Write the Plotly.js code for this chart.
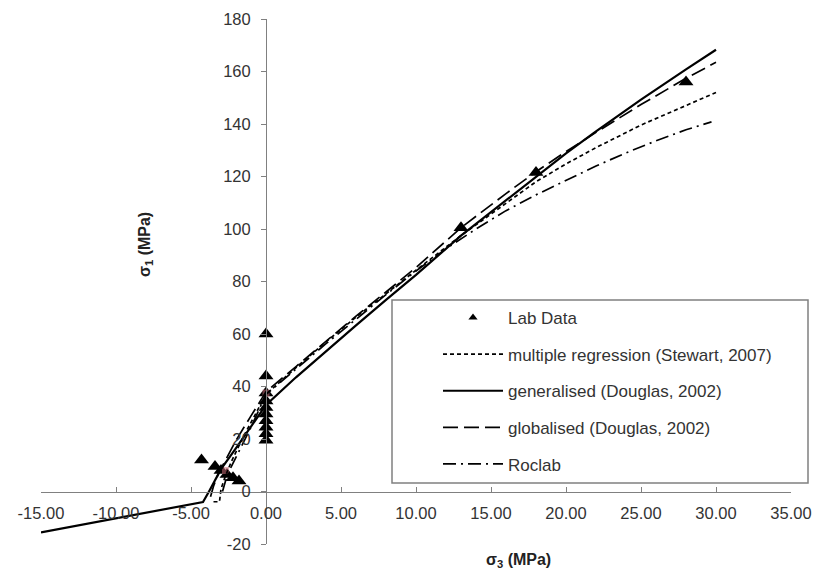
<!DOCTYPE html>
<html>
<head>
<meta charset="utf-8">
<script src="https://cdn.plot.ly/plotly-3.0.1.min.js"></script>
<style>html,body{margin:0;padding:0;background:#fff;}#chart{width:818px;height:576px;}</style>
</head>
<body>
<div id="chart"></div>
<script>
// Lab data (sigma3, sigma1) in MPa
const labX = [28, 18, 13, 0, 0, 0, 0, 0, 0, 0, 0, 0, 0, -4.3, -3.4, -3.0, -2.6, -2.2, -1.8];
const labY = [156, 121.5, 100.5, 60, 44, 37.5, 34.5, 32, 29.5, 27, 24.5, 22, 19.5, 12, 9.5, 8, 6.5, 5.2, 4];

// highlighted points (pinkish)
const hiX = [0, -2.7];
const hiY = [37.5, 8];

// multiple regression (Stewart, 2007)
const mrX = [-3.5, -3.1, -3.0, -2.7, -2.3, -1.5, -0.7, 0, 2, 4, 6, 8, 10, 13, 16, 18, 20, 22, 25, 28, 30];
const mrY = [-3.9, -3.9, 1, 6, 11.5, 21, 29.5, 37, 47.2, 57, 66.4, 75.5, 84.3, 97.5, 110, 118, 124.8, 131, 139.6, 147.2, 152];

// generalised (Douglas, 2002)
const genX = [-15, -10, -6, -4.2, -3.8, -3.4, -3, -2, -1, 0, 2, 4, 6, 8, 10, 13, 16, 18, 20, 22, 25, 28, 30];
const genY = [-15.6, -10.3, -5.9, -4.0, 0, 4.5, 8.5, 16.5, 24.8, 33, 43.5, 53.5, 63.3, 73, 82.5, 97.5, 111, 120, 128.8, 137.2, 149.3, 160.8, 168.3];

// globalised (Douglas, 2002)
const globX = [-3.7, -3.5, -3.2, -2.8, -2, -1, 0, 2, 4, 6, 8, 10, 13, 16, 18, 20, 22, 25, 28, 30];
const globY = [-2, 2, 6.5, 11, 19.5, 28.8, 38, 47.6, 57.3, 66.8, 76, 85.3, 100.5, 113.5, 121.8, 129.5, 136.8, 147.4, 157.4, 163.5];

// Roclab
const rocX = [-2.9, -2.7, -2.4, -1.8, -1, 0, 2, 4, 6, 8, 10, 12, 14, 16, 18, 20, 22, 24, 26, 28, 29.7];
const rocY = [0, 4, 8.5, 15.5, 24.5, 37, 46.8, 56.3, 65.6, 75, 84, 92.5, 100, 107, 113, 118.6, 124, 129, 133.6, 137.8, 140.8];

const xTicks = [-15, -10, -5, 0, 5, 10, 15, 20, 25, 30, 35];
const yTicks = [-20, 0, 20, 40, 60, 80, 100, 120, 140, 160, 180];

const names = ['Lab Data', 'multiple regression (Stewart, 2007)', 'generalised (Douglas, 2002)', 'globalised (Douglas, 2002)', 'Roclab'];

const lineW = 1.7;
const traces = [
  {x: labX, y: labY, type: 'scatter', mode: 'markers', showlegend: false,
   marker: {symbol: 'triangle-up', size: 13, color: '#000'}},
  {x: hiX, y: hiY, type: 'scatter', mode: 'markers', showlegend: false,
   marker: {symbol: 'square', size: 7, color: 'rgba(200,110,120,0.55)'}},
  {x: [null], y: [null], type: 'scatter', mode: 'markers', name: names[0], legendgroup: 'a',
   marker: {symbol: 'triangle-up', size: 8, color: '#000'}},
  {x: mrX, y: mrY, type: 'scatter', mode: 'lines', name: names[1], legendgroup: 'b',
   line: {color: '#000', width: lineW, dash: '4px,3px'}},
  {x: genX, y: genY, type: 'scatter', mode: 'lines', name: names[2], legendgroup: 'c',
   line: {color: '#000', width: 2.2}},
  {x: globX, y: globY, type: 'scatter', mode: 'lines', name: names[3], legendgroup: 'd',
   line: {color: '#000', width: lineW, dash: '15px,6px'}},
  {x: rocX, y: rocY, type: 'scatter', mode: 'lines', name: names[4], legendgroup: 'e',
   line: {color: '#000', width: lineW, dash: '13px,5px,2px,5px'}}
];

const fontFam = '"Liberation Sans", Arial, sans-serif';
const layout = {
  width: 818, height: 576,
  margin: {l: 41, r: 27, t: 19, b: 32},
  paper_bgcolor: '#fff', plot_bgcolor: '#fff',
  font: {family: fontFam, color: '#333', size: 16},
  showlegend: true,
  xaxis: {
    range: [-15, 35], tickvals: xTicks, ticktext: xTicks.map(v => v.toFixed(2)),
    anchor: 'free', position: 0.1, showline: true, linecolor: '#808080', linewidth: 1.2,
    ticks: 'inside', ticklen: 5, tickcolor: '#808080', showgrid: false, zeroline: false,
    ticklabelstandoff: 6,
    tickfont: {size: 16.5, color: '#333'}
  },
  yaxis: {
    range: [-20, 180], tickvals: yTicks, ticktext: yTicks.map(String),
    anchor: 'free', position: 0.3, showline: true, linecolor: '#808080', linewidth: 1.2,
    ticks: 'outside', ticklen: 5, tickcolor: '#808080', showgrid: false, zeroline: false,
    ticklabelstandoff: 7,
    tickfont: {size: 16.5, color: '#333'}
  },
  legend: {
    x: (438 - 41) / 750, y: 1 - (300 - 19) / 525, xanchor: 'left', yanchor: 'top',
    bgcolor: 'rgba(0,0,0,0)', borderwidth: 0, itemwidth: 60,
    traceorder: 'grouped', tracegroupgap: 11.5,
    font: {size: 17, color: '#333'}
  },
  shapes: [{
    type: 'rect', xref: 'paper', yref: 'paper', layer: 'above',
    x0: (392 - 41) / 750, x1: (808 - 41) / 750,
    y0: 1 - (483 - 19) / 525, y1: 1 - (300 - 19) / 525,
    line: {color: '#808080', width: 1.5}, fillcolor: '#fff'
  }],
  annotations: [
    {text: '<b>σ<sub>3</sub> (MPa)</b>', xref: 'paper', yref: 'paper', showarrow: false,
     x: (518 - 41) / 750, y: 1 - (560 - 19) / 525, xanchor: 'center', yanchor: 'middle',
     font: {size: 16, color: '#222'}},
    {text: '<b>σ<sub>1</sub> (MPa)</b>', xref: 'paper', yref: 'paper', showarrow: false, textangle: -90,
     x: (145 - 41) / 750, y: 1 - (245 - 19) / 525, xanchor: 'center', yanchor: 'middle',
     font: {size: 16, color: '#222'}}
  ]
};

Plotly.newPlot('chart', traces, layout, {displayModeBar: false, staticPlot: true});
</script>
</body>
</html>
